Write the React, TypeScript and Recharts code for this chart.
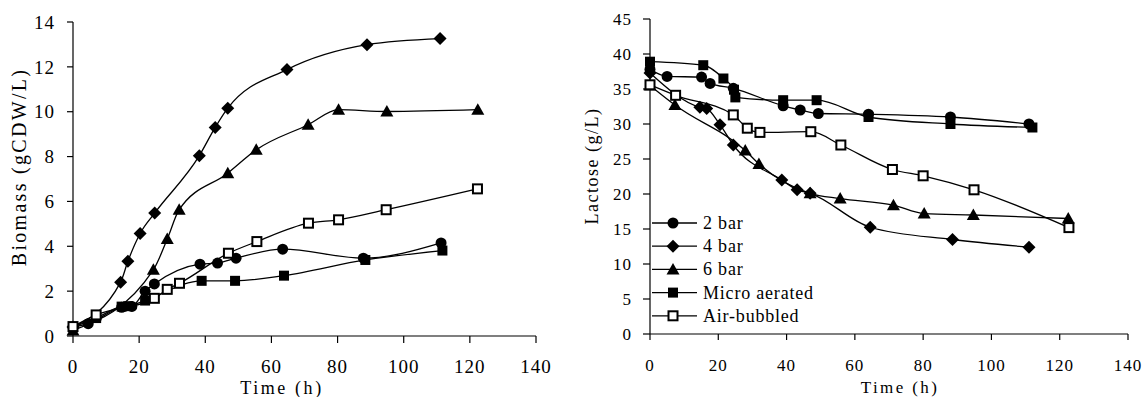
import { LineChart, Line, XAxis, YAxis, Label } from "recharts";

// time (h) and biomass (gCDW/L)
const bioTime2bar = [0, 4.6, 14.7, 17.8, 21.8, 24.6, 38.4, 43.7, 49.3, 63.4, 87.8, 111.3];
const bio2bar = [0.4, 0.55, 1.28, 1.32, 2.0, 2.32, 3.2, 3.25, 3.47, 3.87, 3.47, 4.15];
const bioTime4bar = [0, 14.4, 16.6, 20.3, 24.7, 38.2, 43.0, 46.8, 64.7, 88.9, 111.0];
const bio4bar = [0.4, 2.4, 3.33, 4.57, 5.48, 8.04, 9.3, 10.16, 11.88, 12.99, 13.26];
const bioTime6bar = [0, 24.3, 28.5, 32.1, 46.8, 55.4, 71.1, 80.3, 94.9, 122.4];
const bio6bar = [0.25, 2.95, 4.32, 5.63, 7.26, 8.3, 9.42, 10.09, 10.01, 10.09];
const bioTimeMicro = [0, 7, 14.7, 16.7, 21.8, 38.9, 49.0, 63.8, 88.4, 111.7];
const bioMicro = [0.4, 0.8, 1.31, 1.33, 1.58, 2.46, 2.46, 2.69, 3.39, 3.81];
const bioTimeAir = [0, 7.0, 24.6, 28.5, 32.2, 47.0, 55.6, 71.2, 80.3, 94.7, 122.3];
const bioAir = [0.42, 0.94, 1.68, 2.08, 2.35, 3.69, 4.21, 5.03, 5.18, 5.63, 6.56];

// time (h) and lactose (g/L)
const lacTime2bar = [0, 5, 15.1, 17.6, 24.4, 39.0, 44.0, 49.3, 64.0, 88.0, 111.0];
const lac2bar = [37.8, 36.8, 36.7, 35.8, 35.1, 32.6, 32.0, 31.5, 31.4, 31.0, 30.0];
const lacTime4bar = [0, 14.6, 16.6, 20.5, 24.4, 38.6, 43.1, 46.9, 64.5, 88.6, 111.0];
const lac4bar = [37.3, 32.4, 32.2, 29.9, 27.0, 22.0, 20.6, 20.1, 15.25, 13.5, 12.4];
const lacTime6bar = [0, 7.3, 27.9, 31.9, 46.9, 55.7, 71.3, 80.3, 94.7, 122.5];
const lac6bar = [35.5, 32.7, 26.2, 24.3, 20.1, 19.35, 18.4, 17.2, 17.0, 16.5];
const lacTimeMicro = [0, 15.6, 21.5, 24.6, 25.0, 39.0, 48.8, 64.0, 88.0, 112.0];
const lacMicro = [38.9, 38.4, 36.5, 34.9, 33.8, 33.4, 33.4, 31.0, 30.0, 29.5];
const lacTimeAir = [0, 7.5, 24.4, 28.5, 32.2, 47.1, 55.9, 71.0, 80.0, 94.9, 122.7];
const lacAir = [35.6, 34.1, 31.3, 29.4, 28.8, 28.9, 27.0, 23.5, 22.6, 20.6, 15.2];

const timeTicks = [0, 20, 40, 60, 80, 100, 120, 140];
const biomassTicks = [0, 2, 4, 6, 8, 10, 12, 14];
const lactoseTicks = [0, 5, 10, 15, 20, 25, 30, 35, 40, 45];

const seriesNames = ["2 bar", "4 bar", "6 bar", "Micro aerated", "Air-bubbled"];
const markerKinds = ["circle", "diamond", "triangle", "square", "openSquare"];

const FONT = '"Liberation Serif", "Times New Roman", Times, serif';

const pairs = (t: number[], v: number[]) => t.map((x, i) => ({ t: x, v: v[i] }));

const biomassSeries = [
  pairs(bioTime2bar, bio2bar),
  pairs(bioTime4bar, bio4bar),
  pairs(bioTime6bar, bio6bar),
  pairs(bioTimeMicro, bioMicro),
  pairs(bioTimeAir, bioAir),
];
const lactoseSeries = [
  pairs(lacTime2bar, lac2bar),
  pairs(lacTime4bar, lac4bar),
  pairs(lacTime6bar, lac6bar),
  pairs(lacTimeMicro, lacMicro),
  pairs(lacTimeAir, lacAir),
];

function Marker({ kind, cx, cy }: { kind: string; cx: number; cy: number }) {
  if (kind === "circle") return <circle cx={cx} cy={cy} r={5.5} fill="#000" />;
  if (kind === "diamond")
    return (
      <polygon
        points={`${cx},${cy - 6.5} ${cx + 6.5},${cy} ${cx},${cy + 6.5} ${cx - 6.5},${cy}`}
        fill="#000"
      />
    );
  if (kind === "triangle")
    return (
      <polygon
        points={`${cx},${cy - 6.5} ${cx + 6.5},${cy + 5} ${cx - 6.5},${cy + 5}`}
        fill="#000"
      />
    );
  if (kind === "square")
    return <rect x={cx - 5} y={cy - 5} width={10} height={10} fill="#000" />;
  return (
    <rect x={cx - 4.5} y={cy - 4.5} width={9} height={9} fill="#fff" stroke="#000" strokeWidth={2} />
  );
}

const dotFor = (kind: string) => (p: any) =>
  <Marker key={`${kind}-${p.index}`} kind={kind} cx={p.cx} cy={p.cy} />;

function Title({ x, y, text, size, spacing, rotate }: any) {
  return (
    <text
      x={x}
      y={y}
      textAnchor="middle"
      fontSize={size}
      letterSpacing={spacing}
      fill="#000"
      style={{ fontFamily: FONT }}
      transform={rotate ? `rotate(-90, ${x}, ${y})` : undefined}
    >
      {text}
    </text>
  );
}

function LegendBox() {
  return (
    <svg width={220} height={120} style={{ display: "block" }}>
      {seriesNames.map((name, i) => {
        const y = 12 + i * 23.2;
        return (
          <g key={name}>
            <line x1={2} x2={47} y1={y} y2={y} stroke="#000" strokeWidth={1.3} />
            <Marker kind={markerKinds[i]} cx={23} cy={y} />
            <text x={53} y={y + 6} fontSize={18} letterSpacing={0.8} fill="#000">
              {name}
            </text>
          </g>
        );
      })}
    </svg>
  );
}

export default function App() {
  const axisStroke = { stroke: "#000", strokeWidth: 1.2 };
  return (
    <div
      style={{
        position: "absolute",
        left: 0,
        top: 0,
        width: 1146,
        height: 397,
        background: "#fff",
        fontFamily: FONT,
      }}
    >
      <style>{`svg text { font-family: ${FONT}; font-weight: normal; }`}</style>
      <div style={{ position: "absolute", left: 0, top: 0 }}>
        <LineChart width={560} height={397} margin={{ top: 22, right: 24, bottom: 0, left: 0 }}>
          <XAxis
            type="number"
            dataKey="t"
            domain={[0, 140]}
            ticks={timeTicks}
            height={61}
            axisLine={axisStroke}
            tickLine={axisStroke}
            tickSize={7}
            tickMargin={17}
            tick={{ fill: "#000", fontSize: 19, letterSpacing: 1 }}
            allowDuplicatedCategory={false}
          >
            <Label content={() => <Title x={282} y={394} text="Time (h)" size={18} spacing={2.6} />} />
          </XAxis>
          <YAxis
            type="number"
            domain={[0, 14]}
            ticks={biomassTicks}
            width={73}
            axisLine={axisStroke}
            tickLine={axisStroke}
            tickSize={6}
            tickMargin={12}
            tick={{ fill: "#000", fontSize: 19, letterSpacing: 1 }}
          >
            <Label
              content={() => (
                <Title x={26} y={167} text="Biomass (gCDW/L)" size={20} spacing={2.3} rotate />
              )}
            />
          </YAxis>
          {biomassSeries.map((d, i) => (
            <Line
              key={seriesNames[i]}
              data={d}
              dataKey="v"
              name={seriesNames[i]}
              type="monotone"
              stroke="#000"
              strokeWidth={1.3}
              dot={dotFor(markerKinds[i])}
              activeDot={false}
              isAnimationActive={false}
            />
          ))}
        </LineChart>
      </div>
      <div style={{ position: "absolute", left: 560, top: 0 }}>
        <LineChart width={586} height={397} margin={{ top: 19, right: 18, bottom: 0, left: 0 }}>
          <XAxis
            type="number"
            dataKey="t"
            domain={[0, 140]}
            ticks={timeTicks}
            height={63}
            axisLine={axisStroke}
            tickLine={axisStroke}
            tickSize={6}
            tickMargin={19}
            tick={{ fill: "#000", fontSize: 17, letterSpacing: 1 }}
            allowDuplicatedCategory={false}
          >
            <Label content={() => <Title x={340} y={393} text="Time (h)" size={17} spacing={2.4} />} />
          </XAxis>
          <YAxis
            type="number"
            domain={[0, 45]}
            ticks={lactoseTicks}
            width={90}
            axisLine={axisStroke}
            tickLine={axisStroke}
            tickSize={7}
            tickMargin={11}
            tick={{ fill: "#000", fontSize: 17, letterSpacing: 1 }}
          >
            <Label
              content={() => (
                <Title x={38} y={166} text="Lactose (g/L)" size={18} spacing={1.5} rotate />
              )}
            />
          </YAxis>
          {lactoseSeries.map((d, i) => (
            <Line
              key={seriesNames[i]}
              data={d}
              dataKey="v"
              name={seriesNames[i]}
              type="monotone"
              stroke="#000"
              strokeWidth={1.3}
              dot={dotFor(markerKinds[i])}
              activeDot={false}
              isAnimationActive={false}
            />
          ))}
        </LineChart>
        <div style={{ position: "absolute", left: 90, top: 211 }}>
          <LegendBox />
        </div>
      </div>
    </div>
  );
}
